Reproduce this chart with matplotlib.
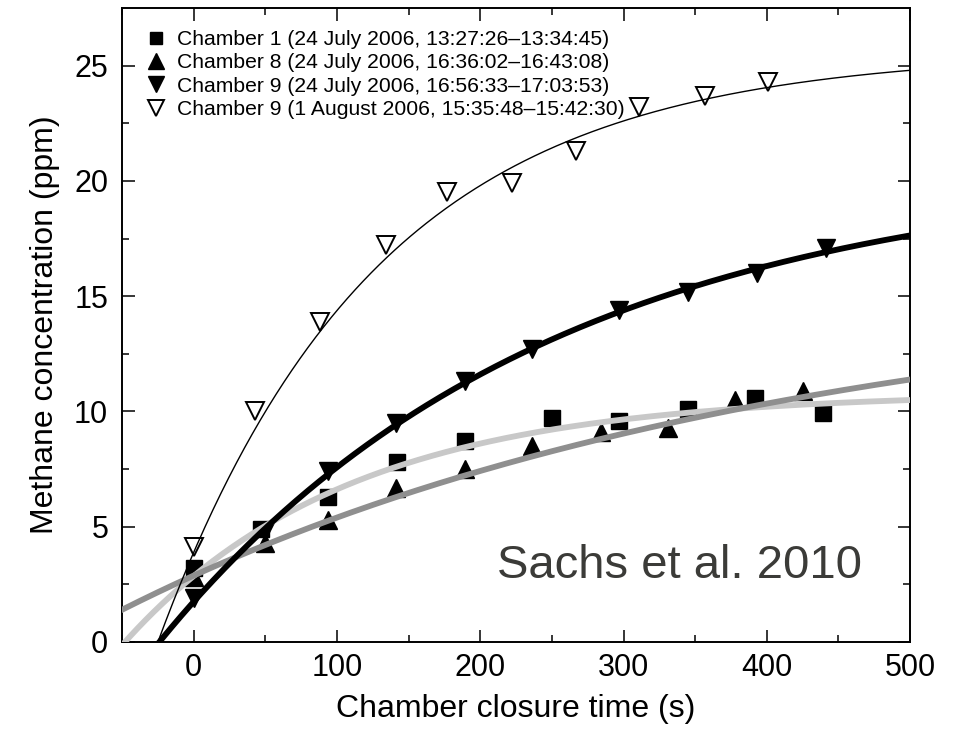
import numpy as np
import matplotlib
matplotlib.use("Agg")
import matplotlib.pyplot as plt

plt.rcParams['font.family'] = ['Liberation Sans', 'DejaVu Sans']

# measured concentrations (s, ppm)
t_ch1 = [0, 47, 94, 142, 189, 250, 297, 345, 392, 439]
c_ch1 = [3.2, 4.9, 6.3, 7.8, 8.7, 9.7, 9.6, 10.1, 10.6, 9.95]

t_ch8 = [0, 50, 94, 141, 189, 236, 284, 331, 378, 425]
c_ch8 = [2.8, 4.3, 5.3, 6.7, 7.5, 8.5, 9.1, 9.3, 10.5, 10.9]

t_ch9_jul = [0, 50, 94, 141, 189, 236, 297, 345, 393, 441]
c_ch9_jul = [1.9, 4.8, 7.4, 9.5, 11.3, 12.7, 14.4, 15.2, 16.0, 17.1]

t_ch9_aug = [0, 43, 88, 134, 177, 222, 267, 311, 357, 401]
c_ch9_aug = [4.1, 10.0, 13.9, 17.2, 19.5, 19.9, 21.3, 23.2, 23.7, 24.3]

labels = [
    "Chamber 1 (24 July 2006, 13:27:26\u201313:34:45)",
    "Chamber 8 (24 July 2006, 16:36:02\u201316:43:08)",
    "Chamber 9 (24 July 2006, 16:56:33\u201317:03:53)",
    "Chamber 9 (1 August 2006, 15:35:48\u201315:42:30)",
]

# exponential fits C = A * (1 - exp(-k (t - t0)))
fit_ch1 = (10.82, 0.0064, -48)
fit_ch8 = (15.63, 0.0022, -92.6)
fit_ch9_jul = (20.6, 0.0037, -24)
fit_ch9_aug = (25.6, 0.0066, -25)


def fit_curve(t, p):
    A, k, t0 = p
    return A * (1 - np.exp(-k * (t - t0)))


fig = plt.figure(figsize=(9.54, 7.32), dpi=100)
ax = fig.add_axes([0.128, 0.123, 0.826, 0.866])

tt = np.linspace(-50, 500, 400)

ax.plot(t_ch1, c_ch1, 's', color='black', ms=11, zorder=2, label=labels[0])
ax.plot(t_ch8, c_ch8, '^', color='black', ms=13, zorder=2, label=labels[1])
ax.plot(t_ch9_jul, c_ch9_jul, 'v', color='black', ms=13, zorder=2, label=labels[2])
ax.plot(t_ch9_aug, c_ch9_aug, 'v', mfc='white', mec='black', mew=1.4, ms=13,
        zorder=2, label=labels[3])

ax.plot(tt, fit_curve(tt, fit_ch1), color='#c8c8c8', lw=4.2, zorder=3)
ax.plot(tt, fit_curve(tt, fit_ch8), color='#8f8f8f', lw=4.2, zorder=3)
ax.plot(tt, fit_curve(tt, fit_ch9_jul), color='black', lw=4.2, zorder=4)
ax.plot(tt, fit_curve(tt, fit_ch9_aug), color='black', lw=1.0, zorder=4)

ax.set_xlim(-50, 500)
ax.set_ylim(0, 27.5)
ax.set_xticks([0, 100, 200, 300, 400, 500])
ax.set_xticks([-50, 50, 150, 250, 350, 450], minor=True)
ax.set_yticks([0, 5, 10, 15, 20, 25])
ax.set_yticks([2.5, 7.5, 12.5, 17.5, 22.5], minor=True)
ax.tick_params(which='both', direction='in', top=True, right=True, width=1.1,
               labelsize=22, colors='black')
ax.tick_params(which='major', length=9)
ax.tick_params(which='minor', length=5)
ax.tick_params(axis='x', pad=8)
ax.tick_params(axis='y', pad=10)
for s in ax.spines.values():
    s.set_linewidth(1.4)

ax.set_xlabel('Chamber closure time (s)', fontsize=23, labelpad=8)
ax.set_ylabel('Methane concentration (ppm)', fontsize=23, labelpad=10)

ax.legend(loc='upper left', bbox_to_anchor=(0.013, 0.985), frameon=False,
          fontsize=15.2, handlelength=1.0, handletextpad=0.5, labelspacing=0.2,
          borderaxespad=0.2, markerscale=0.85)

fig.text(0.521, 0.2104, 'Sachs et al. 2010', fontsize=34, color='#3b3b38',
         va='baseline')

fig.savefig('out.png', dpi=100)
